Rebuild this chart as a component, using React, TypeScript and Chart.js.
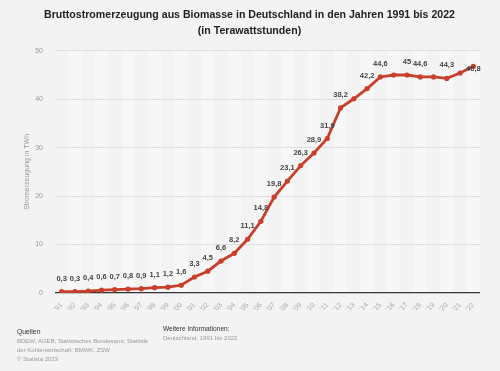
import React, { useEffect, useRef } from "react";
import { Chart, registerables } from "chart.js";

Chart.register(...registerables);

const years = ["'91","'92","'93","'94","'95","'96","'97","'98","'99","'00","'01","'02","'03","'04","'05","'06","'07","'08","'09","'10","'11","'12","'13","'14","'15","'16","'17","'18","'19","'20","'21","'22"];
const values = [0.3,0.3,0.4,0.6,0.7,0.8,0.9,1.1,1.2,1.6,3.3,4.5,6.6,8.2,11.1,14.8,19.8,23.1,26.3,28.9,31.9,38.2,40.1,42.2,44.6,45.0,45.0,44.6,44.6,44.3,45.4,46.8];
const shownLabels = ["0,3","0,3","0,4","0,6","0,7","0,8","0,9","1,1","1,2","1,6","3,3","4,5","6,6","8,2","11,1","14,8","19,8","23,1","26,3","28,9","31,9","38,2","","42,2","44,6","","45","44,6","","44,3","","46,8"];
const yTicks = [0, 10, 20, 30, 40, 50];
const titleLines = ["Bruttostromerzeugung aus Biomasse in Deutschland in den Jahren 1991 bis 2022", "(in Terawattstunden)"];
const yTitle = "Stromerzeugung in TWh";

const FONT = "'Liberation Sans', Arial, Helvetica, sans-serif";
const RED = "#c8402b";
const BG = "#f3f3f3";

const bandsPlugin = {
  id: "bands",
  beforeDraw(chart: any) {
    const { ctx, chartArea, scales } = chart;
    const x = scales.x;
    const n = chart.data.labels.length;
    const w = (chartArea.right - chartArea.left) / n;
    ctx.save();
    ctx.fillStyle = "rgba(255,255,255,0.35)";
    for (let i = 1; i < n; i += 2) {
      const cx = x.getPixelForValue(i);
      ctx.fillRect(cx - w / 2, chartArea.top, w, chartArea.bottom - chartArea.top);
    }
    ctx.restore();
  },
};

const labelsPlugin = {
  id: "pointLabels",
  afterDatasetsDraw(chart: any) {
    const { ctx } = chart;
    const meta = chart.getDatasetMeta(0);
    ctx.save();
    ctx.font = `bold 7.5px ${FONT}`;
    ctx.fillStyle = "#444";
    ctx.textAlign = "center";
    ctx.textBaseline = "middle";
    const last = meta.data.length - 1;
    meta.data.forEach((pt: any, i: number) => {
      const t = shownLabels[i];
      if (!t) return;
      const dy = i === last ? 3 : -13;
      ctx.fillText(t, pt.x, pt.y + dy);
    });
    ctx.restore();
  },
};

function ChartCanvas() {
  const ref = useRef<HTMLCanvasElement>(null);
  useEffect(() => {
    if (!ref.current) return;
    const chart = new Chart(ref.current, {
      type: "line",
      data: {
        labels: years,
        datasets: [
          {
            data: values,
            borderColor: RED,
            backgroundColor: RED,
            borderWidth: 2.8,
            pointRadius: 2.6,
            pointBorderWidth: 0,
            pointBackgroundColor: RED,
            tension: 0,
          },
        ],
      },
      options: {
        responsive: false,
        animation: false,
        events: [],
        layout: { padding: { left: 19, right: 20, top: 0, bottom: 53 } },
        plugins: {
          legend: { display: false },
          tooltip: { enabled: false },
          title: {
            display: true,
            text: titleLines,
            color: "#222",
            font: { family: FONT, size: 10.6, weight: "bold", lineHeight: 1.5 },
            padding: { top: 7, bottom: 12 },
          },
        },
        scales: {
          x: {
            offset: true,
            grid: { display: false, drawTicks: false },
            border: { display: false },
            ticks: {
              minRotation: 45,
              maxRotation: 45,
              autoSkip: false,
              color: "#aaa",
              padding: 8,
              font: { family: FONT, size: 7 },
            },
            afterFit(scale: any) {
              scale.height = 25;
            },
          },
          y: {
            min: 0,
            max: 50,
            afterBuildTicks(scale: any) {
              scale.ticks = yTicks.map((v) => ({ value: v }));
            },
            grid: {
              drawTicks: false,
              color: (c: any) => (c.tick && c.tick.value === 0 ? "#333" : "#dedede"),
              lineWidth: (c: any) => (c.tick && c.tick.value === 0 ? 1.2 : 1),
            },
            border: { display: false },
            ticks: {
              color: "#999",
              padding: 12,
              font: { family: FONT, size: 7 },
            },
            title: {
              display: true,
              text: yTitle,
              color: "#999",
              font: { family: FONT, size: 7 },
            },
            afterFit(scale: any) {
              scale.width = 36;
            },
          },
        },
      },
      plugins: [bandsPlugin, labelsPlugin],
    });
    return () => chart.destroy();
  }, []);
  return <canvas ref={ref} width={500} height={371} style={{ position: "absolute", left: 0, top: 0 }} />;
}

export default function App() {
  const small: React.CSSProperties = { fontSize: 6, color: "#999", lineHeight: "9px" };
  return (
    <div style={{ position: "fixed", left: 0, top: 0, width: 500, height: 371, background: BG, fontFamily: FONT, overflow: "hidden" }}>
      <ChartCanvas />
      <div style={{ position: "absolute", left: 17, top: 327 }}>
        <div style={{ fontSize: 6.8, color: "#333", lineHeight: "10px" }}>Quellen</div>
        <div style={small}>BDEW; AGEB; Statistisches Bundesamt; Statistik</div>
        <div style={small}>der Kohlenwirtschaft; BMWK; ZSW</div>
        <div style={small}>© Statista 2023</div>
      </div>
      <div style={{ position: "absolute", left: 163, top: 324 }}>
        <div style={{ fontSize: 6.6, color: "#333", lineHeight: "10px" }}>Weitere Informationen:</div>
        <div style={small}>Deutschland; 1991 bis 2022</div>
      </div>
    </div>
  );
}
